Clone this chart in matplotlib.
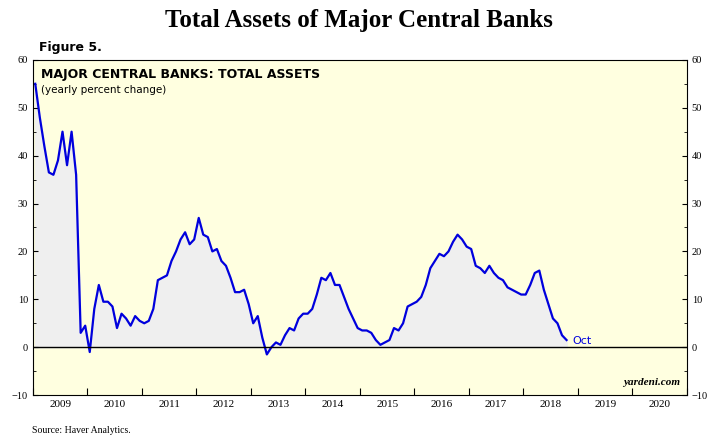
import numpy as np
from matplotlib import pyplot as plt

# monthly yearly % change, Jan 2009 - Oct 2018
vals = {
    2009: [55, 48, 42, 36.5, 36, 39, 45, 38, 45, 36, 3, 4.5],
    2010: [-1, 8, 13, 9.5, 9.5, 8.5, 4, 7, 6, 4.5, 6.5, 5.5],
    2011: [5, 5.5, 8, 14, 14.5, 15, 18, 20, 22.5, 24, 21.5, 22.5],
    2012: [27, 23.5, 23, 20, 20.5, 18, 17, 14.5, 11.5, 11.5, 12, 9],
    2013: [5, 6.5, 2, -1.5, 0, 1, 0.5, 2.5, 4, 3.5, 6, 7],
    2014: [7, 8, 11, 14.5, 14, 15.5, 13, 13, 10.5, 8, 6, 4],
    2015: [3.5, 3.5, 3, 1.5, 0.5, 1, 1.5, 4, 3.5, 5, 8.5, 9],
    2016: [9.5, 10.5, 13, 16.5, 18, 19.5, 19, 20, 22, 23.5, 22.5, 21],
    2017: [20.5, 17, 16.5, 15.5, 17, 15.5, 14.5, 14, 12.5, 12, 11.5, 11],
    2018: [11, 13, 15.5, 16, 12, 9, 6, 5, 2.5, 1.5],
}
x = []
y = []
for yr in vals:
    for m, v in enumerate(vals[yr]):
        x.append(yr + (m + 0.5) / 12)
        y.append(v)
x = np.array(x)
y = np.array(y)

fig = plt.figure(figsize=(7.17, 4.4), dpi=100)
ax = fig.add_axes([0.046, 0.102, 0.912, 0.762])
ax.set_facecolor("#ffffe0")
ax.fill_between(x, y, 0, color="#efefef")
ax.plot(x, y, color="#0000dd", lw=1.6)
ax.axhline(0, color="black", lw=1)
ax.text(x[-1] + 0.1, y[-1] - 0.3, "Oct", color="#0000dd", fontsize=8, va="center")

ax.set_xlim(2009, 2021)
ax.set_ylim(-10, 60)
ax.set_xticks(range(2009, 2022))
ax.set_xticklabels([])
ax.set_xticks([yr + 0.5 for yr in range(2009, 2021)], minor=True)
ax.set_xticklabels([str(yr) for yr in range(2009, 2021)], minor=True, fontsize=8, family="Liberation Serif")
ax.tick_params(axis="x", which="minor", length=0)
ax.tick_params(axis="x", which="major", length=5, direction="in")
ax.set_yticks(range(-10, 61, 10))
ax.set_yticks(range(-10, 61, 5), minor=True)
ax.tick_params(axis="y", which="both", direction="in", labelsize=7.5, right=True, labelright=True)
for lab in ax.get_yticklabels():
    lab.set_family("Liberation Serif")

ax.text(0.012, 0.975, "MAJOR CENTRAL BANKS: TOTAL ASSETS", transform=ax.transAxes,
        fontsize=9, fontweight="bold", va="top")
ax.text(0.012, 0.925, "(yearly percent change)", transform=ax.transAxes, fontsize=7.5, va="top")
ax.text(0.99, 0.03, "yardeni.com", transform=ax.transAxes, fontsize=8, ha="right",
        style="italic", fontweight="bold", family="Liberation Serif")

fig.text(0.5, 0.953, "Total Assets of Major Central Banks", ha="center", va="center",
         fontsize=18, fontweight="bold", family="Liberation Serif")
fig.text(0.055, 0.893, "Figure 5.", fontsize=9, fontweight="bold", va="center")
fig.text(0.045, 0.022, "Source: Haver Analytics.", fontsize=7, family="Liberation Serif", va="center")

plt.savefig("out.png")
